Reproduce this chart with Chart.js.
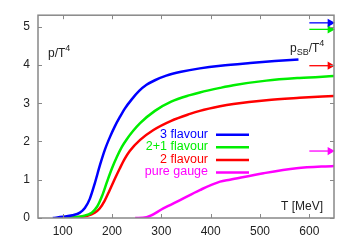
<!DOCTYPE html>
<html>
<head>
<meta charset="utf-8">
<script src="https://cdn.jsdelivr.net/npm/chart.js@4/dist/chart.umd.min.js"></script>
<style>
  html, body { margin: 0; padding: 0; background: white; }
  #chart-root { width: 349px; height: 244px; }
</style>
</head>
<body>
<div id="chart-root"><canvas id="chart-main"></canvas></div>
<script>
// temperature (MeV) and p/T^4
const threeFlavourT = [80, 100, 120, 135, 145, 155, 165, 176, 186, 196, 206, 216, 226, 240, 255, 270, 287, 310, 340, 378, 420, 480, 530, 578];
const threeFlavour = [0, 0.03, 0.07, 0.14, 0.26, 0.5, 0.9, 1.4, 1.8, 2.12, 2.4, 2.64, 2.86, 3.1, 3.32, 3.48, 3.6, 3.72, 3.82, 3.91, 3.98, 4.05, 4.1, 4.14];

const twoPlusOneT = [105, 125, 140, 159, 170, 180, 190, 200, 210, 220, 230, 243, 257, 287, 320, 358, 378, 419, 446, 513, 580, 650];
const twoPlusOne = [0, 0.02, 0.05, 0.14, 0.3, 0.58, 0.95, 1.3, 1.6, 1.86, 2.06, 2.28, 2.48, 2.8, 3.04, 3.21, 3.28, 3.4, 3.47, 3.59, 3.66, 3.71];

const twoFlavourT = [105, 130, 150, 165, 175, 185, 195, 206, 216, 226, 236, 257, 284, 320, 358, 378, 419, 446, 513, 580, 650];
const twoFlavour = [0, 0.02, 0.06, 0.14, 0.25, 0.45, 0.72, 1.03, 1.3, 1.55, 1.75, 2.04, 2.3, 2.54, 2.72, 2.8, 2.92, 2.98, 3.08, 3.14, 3.19];

const pureGaugeT = [247, 270, 304, 338, 378, 419, 439, 507, 574, 650];
const pureGauge = [0, 0.02, 0.25, 0.47, 0.73, 0.95, 1.0, 1.17, 1.3, 1.36];

// Stefan-Boltzmann limits, shown as arrows at the right edge
const sbLimits = [5.1, 4.93, 3.98, 1.75];
const arrowT = [600, 642];

const seriesNames = ["3 flavour", "2+1 flavour", "2 flavour", "pure gauge"];
const seriesColors = ["#0000ff", "#00ee00", "#ff0000", "#ff00ff"];

const xTicks = [100, 200, 300, 400, 500, 600];
const yTicks = [0, 1, 2, 3, 4, 5];

function toPoints(xs, ys) {
    return xs.map((x, i) => ({ x: x, y: ys[i] }));
}

const curves = [
    toPoints(threeFlavourT, threeFlavour),
    toPoints(twoPlusOneT, twoPlusOne),
    toPoints(twoFlavourT, twoFlavour),
    toPoints(pureGaugeT, pureGauge)
];

const datasets = [];
curves.forEach((pts, i) => {
    datasets.push({
        label: seriesNames[i],
        data: pts,
        borderColor: seriesColors[i],
        borderWidth: 2.5,
        pointRadius: 0,
        cubicInterpolationMode: "monotone",
        fill: false
    });
});
sbLimits.forEach((v, i) => {
    datasets.push({
        label: "SB " + seriesNames[i],
        data: arrowT.map(t => ({ x: t, y: v })),
        borderColor: seriesColors[i],
        backgroundColor: seriesColors[i],
        borderWidth: 1.3,
        pointRadius: [0, 3.5],
        pointStyle: "triangle",
        rotation: 90,
        clip: false
    });
});

const fontName = "'Liberation Sans', Arial, sans-serif";

// frame, inward ticks, labels and legend
const decorations = {
    id: "decorations",
    afterDraw(chart) {
        const ctx = chart.ctx;
        const a = chart.chartArea;
        const xs = chart.scales.x;
        const ys = chart.scales.y;
        ctx.save();
        ctx.strokeStyle = "#888888";
        ctx.lineWidth = 1.5;
        ctx.strokeRect(a.left, a.top, a.right - a.left, a.bottom - a.top);
        ctx.lineWidth = 1;
        ctx.beginPath();
        for (let t of xTicks) {
            const px = Math.round(xs.getPixelForValue(t)) + 0.5;
            ctx.moveTo(px, a.bottom); ctx.lineTo(px, a.bottom - 4);
            ctx.moveTo(px, a.top); ctx.lineTo(px, a.top + 4);
        }
        for (let t of yTicks) {
            const py = Math.round(ys.getPixelForValue(t)) + 0.5;
            ctx.moveTo(a.left, py); ctx.lineTo(a.left + 4, py);
            ctx.moveTo(a.right, py); ctx.lineTo(a.right - 4, py);
        }
        ctx.stroke();

        ctx.fillStyle = "#222222";
        ctx.textBaseline = "alphabetic";
        ctx.textAlign = "left";
        ctx.font = "12px " + fontName;
        ctx.fillText("p/T", a.left + 10, a.top + 42);
        let w = ctx.measureText("p/T").width;
        ctx.font = "9px " + fontName;
        ctx.fillText("4", a.left + 10 + w, a.top + 36);

        ctx.font = "12px " + fontName;
        let x0 = a.right - 44;
        ctx.fillText("p", x0, a.top + 37);
        x0 += ctx.measureText("p").width;
        ctx.font = "9px " + fontName;
        ctx.fillText("SB", x0, a.top + 40);
        x0 += ctx.measureText("SB").width;
        ctx.font = "12px " + fontName;
        ctx.fillText("/T", x0, a.top + 37);
        x0 += ctx.measureText("/T").width;
        ctx.font = "9px " + fontName;
        ctx.fillText("4", x0, a.top + 31);

        ctx.font = "12px " + fontName;
        ctx.textAlign = "right";
        ctx.fillText("T [MeV]", a.right - 11, a.bottom - 8);

        // legend
        ctx.font = "12.5px " + fontName;
        ctx.textBaseline = "middle";
        seriesNames.forEach((name, i) => {
            const yy = a.top + 119 + i * 12.6;
            ctx.fillStyle = seriesColors[i];
            ctx.fillText(name, a.left + 170, yy);
            ctx.strokeStyle = seriesColors[i];
            ctx.lineWidth = 2.5;
            ctx.beginPath();
            ctx.moveTo(a.left + 178, yy + 0.5);
            ctx.lineTo(a.left + 211, yy + 0.5);
            ctx.stroke();
        });
        ctx.restore();
    }
};

const myChart = new Chart(document.getElementById("chart-main"), {
    type: "line",
    data: { datasets: datasets },
    options: {
        responsive: true,
        maintainAspectRatio: false,
        animation: false,
        layout: { padding: { left: 0, right: 15, top: 15, bottom: 0 } },
        plugins: { legend: { display: false }, tooltip: { enabled: false } },
        scales: {
            x: {
                type: "linear",
                min: 50,
                max: 650,
                afterBuildTicks: (scale) => { scale.ticks = xTicks.map(v => ({ value: v })); },
                afterFit: (scale) => { scale.height = 26; },
                grid: { display: false, drawTicks: false },
                border: { display: false },
                ticks: { color: "#222222", padding: 6, font: { family: fontName, size: 12 } }
            },
            y: {
                type: "linear",
                min: 0,
                max: 5.3,
                afterBuildTicks: (scale) => { scale.ticks = yTicks.map(v => ({ value: v })); },
                afterFit: (scale) => { scale.width = 38; },
                grid: { display: false, drawTicks: false },
                border: { display: false },
                ticks: { color: "#222222", padding: 8, font: { family: fontName, size: 12 } }
            }
        }
    },
    plugins: [decorations]
});
</script>
</body>
</html>
